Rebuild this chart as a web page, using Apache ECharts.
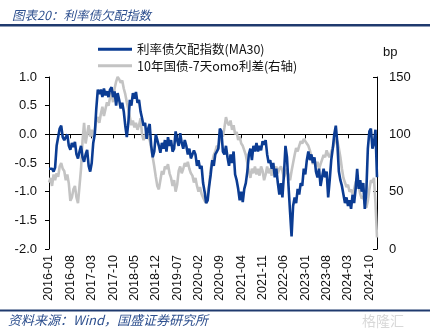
<!DOCTYPE html>
<html>
<head>
<meta charset="utf-8">
<script src="https://cdn.jsdelivr.net/npm/echarts@6/dist/echarts.min.js"></script>
<style>
html,body{margin:0;padding:0;background:#fff;}
#c{width:430px;height:333px;}
</style>
</head>
<body>
<div id="c"></div>
<script>
// semi-monthly observations, 2016-01 .. 2024-12
var tickLabels = ['2016-01','2016-08','2017-03','2017-10','2018-05','2018-12','2019-07','2020-02','2020-09','2021-04','2021-11','2022-06','2023-01','2023-08','2024-03','2024-10'];
var leftTicks = [-2.0, -1.5, -1.0, -0.5, 0.0, 0.5, 1.0];
var rightTicks = [0, 50, 100, 150];

var underAllocIndex = [
 -0.6,-0.62,-0.6,-0.65,-0.58,-0.2,-0.05,0.1,0.15,-0.05,
 -0.1,-0.08,0.0,-0.2,-0.27,-0.15,-0.22,-0.13,-0.35,-0.42,
 -0.3,-0.2,-0.4,-0.48,-0.35,-0.27,-0.55,-0.65,-0.5,-0.15,
 0.0,0.45,0.78,0.7,0.78,0.65,0.8,0.68,0.75,0.65,
 0.78,0.82,0.65,0.75,0.5,0.72,0.6,0.45,0.55,0.4,
 0.15,-0.05,0.2,0.6,0.5,0.72,0.62,0.74,0.55,0.6,
 0.4,0.28,0.15,0.2,-0.08,0.1,0.18,-0.2,-0.4,-0.3,
 0.0,0.02,-0.2,-0.32,-0.15,-0.25,-0.1,-0.3,-0.05,-0.2,
 -0.1,-0.3,-0.25,0.05,-0.1,-0.2,0.02,-0.15,-0.25,-0.1,
 -0.2,-0.35,-0.25,-0.42,-0.45,-0.28,-0.35,-0.55,-0.45,-0.6,
 -0.55,-0.85,-1.0,-1.2,-1.15,-0.9,-0.7,-0.45,-0.55,-0.35,
 -0.3,-0.25,0.1,0.05,-0.3,-0.35,-0.2,-0.4,-0.55,-0.35,
 -0.5,-0.3,-0.7,-0.8,-0.95,-1.15,-1.0,-1.18,-0.95,-0.85,
 -0.65,-0.35,-0.25,-0.45,-0.2,-0.3,-0.15,-0.3,-0.2,-0.28,
 -0.12,-0.18,-0.1,-0.35,-0.5,-0.45,-0.6,-0.5,-0.75,-0.6,
 -0.85,-1.05,-0.85,-1.1,-0.7,-0.2,-0.4,-0.9,-1.35,-1.78,
 -1.25,-1.1,-1.2,-0.95,-1.05,-0.85,-0.9,-0.6,-0.7,-0.45,
 -0.3,-0.45,-0.35,-0.5,-0.4,-0.65,-0.75,-0.6,-0.9,-0.75,
 -0.6,-0.75,-0.65,-1.1,-0.8,-0.45,-0.25,0.0,0.15,-0.15,
 -0.65,-0.8,-0.9,-1.05,-1.2,-1.1,-1.25,-1.15,-1.3,-1.05,
 -1.2,-0.95,-0.6,-0.95,-0.8,-1.0,-0.85,-1.3,-1.0,-0.25,
 0.05,0.1,-0.25,-0.15,0.08,-0.75
];

var spreadBp = [
 58,62,55,65,60,66,63,72,75,70,
 68,60,65,57,42,45,52,55,45,40,
 55,70,95,110,92,100,108,98,104,98,
 103,112,115,110,118,124,116,122,128,125,
 132,136,128,140,146,150,148,145,147,140,
 135,128,122,115,108,112,106,110,104,108,
 114,100,95,98,103,97,95,88,80,72,
 63,55,52,60,68,65,72,70,74,66,
 62,55,60,50,56,68,72,66,70,75,
 72,76,70,66,64,58,62,55,50,54,
 48,45,42,40,48,56,70,76,82,85,
 90,88,96,100,98,106,115,110,108,112,
 104,108,100,102,95,98,92,90,86,82,
 75,68,62,70,66,72,65,70,64,72,
 68,60,65,72,66,70,64,74,68,72,
 66,70,72,68,62,66,70,64,60,68,
 75,82,88,85,90,94,92,96,94,92,
 90,86,80,74,78,72,76,70,74,78,
 82,80,86,82,80,85,88,92,96,94,
 88,80,70,62,58,54,56,50,52,48,
 52,58,62,55,48,44,46,40,36,42,
 52,60,58,62,40,10
];

var categories = [];
for (var y = 2016; y <= 2024; y++) {
  for (var mo = 1; mo <= 12; mo++) {
    var mm = (mo < 10 ? '0' : '') + mo;
    categories.push(y + '-' + mm + '-01');
    categories.push(y + '-' + mm + '-16');
  }
}

var chart = echarts.init(document.getElementById('c'), null, {renderer: 'canvas'});
var navy = '#1f3a6e';
var font = 'Liberation Sans, Arial, sans-serif';
var cjk = '"Noto Sans CJK SC", sans-serif';

chart.setOption({
  animation: false,
  backgroundColor: '#fff',
  title: {
    text: '图表20：利率债欠配指数',
    left: 7, top: 4,
    textStyle: {fontFamily: cjk, fontStyle: 'italic', fontWeight: 'normal', fontSize: 12.5, color: '#2d4f8e'}
  },
  graphic: [
    {type: 'rect', shape: {x: 0, y: 24, width: 430, height: 2.5}, style: {fill: navy}},
    {type: 'rect', shape: {x: 0, y: 309.5, width: 430, height: 2}, style: {fill: navy}},
    {type: 'text', left: 8, top: 314, style: {text: '资料来源：Wind，国盛证券研究所', font: 'italic 13px "Noto Sans CJK SC", sans-serif', fill: '#2d4f8e'}},
    {type: 'text', left: 362, top: 314, style: {text: '格隆汇', font: '14px "Noto Sans CJK SC", sans-serif', fill: '#d8d8d8'}}
  ],
  legend: {
    left: 93, top: 38, orient: 'vertical',
    itemWidth: 34, itemHeight: 3, itemGap: 4, icon: 'rect',
    textStyle: {fontFamily: cjk, fontSize: 12.5, color: '#111'},
    data: ['利率债欠配指数(MA30)', '10年国债-7天omo利差(右轴)']
  },
  grid: {left: 49, right: 53, top: 77, bottom: 84, containLabel: false},
  xAxis: [
    {
      type: 'category', data: categories, boundaryGap: false, position: 'bottom',
      axisLine: {show: false, onZero: false},
      axisTick: {show: false},
      axisLabel: {
        interval: 13, rotate: 90, fontFamily: font, fontSize: 12.5, color: '#111', margin: 6,
        formatter: function (v) { return v.slice(0, 7); }
      },
      splitLine: {show: false}
    },
    {
      type: 'category', data: categories, boundaryGap: false, position: 'bottom',
      axisLine: {show: true, onZero: true, onZeroAxisIndex: 0, lineStyle: {color: '#000', width: 1}},
      axisTick: {show: true, interval: 13, length: 4, inside: false, lineStyle: {color: '#000'}},
      axisLabel: {show: false},
      splitLine: {show: false}
    }
  ],
  yAxis: [
    {
      type: 'value', min: leftTicks[0], max: leftTicks[leftTicks.length - 1], interval: 0.5,
      axisLine: {show: true, lineStyle: {color: '#000'}},
      axisTick: {show: true, length: 4, inside: false, lineStyle: {color: '#000'}},
      axisLabel: {fontFamily: font, fontSize: 13, color: '#111', margin: 12,
        formatter: function (v) { return v.toFixed(1); }},
      splitLine: {show: false}
    },
    {
      type: 'value', min: rightTicks[0], max: rightTicks[rightTicks.length - 1], interval: 50,
      position: 'right',
      name: 'bp', nameLocation: 'end', nameGap: 18,
      nameTextStyle: {fontFamily: font, fontSize: 13, color: '#111', align: 'left', padding: [0, 0, 0, 6]},
      axisLine: {show: true, lineStyle: {color: '#000'}},
      axisTick: {show: true, length: 4, inside: true, lineStyle: {color: '#000'}},
      axisLabel: {fontFamily: font, fontSize: 13, color: '#111', margin: 12},
      splitLine: {show: false}
    }
  ],
  series: [
    {
      name: '10年国债-7天omo利差(右轴)', type: 'line', xAxisIndex: 0, yAxisIndex: 1,
      data: spreadBp, symbol: 'none', showSymbol: false,
      lineStyle: {color: '#c3c3c3', width: 2.6}, itemStyle: {color: '#c3c3c3'}, z: 2
    },
    {
      name: '利率债欠配指数(MA30)', type: 'line', xAxisIndex: 0, yAxisIndex: 0,
      data: underAllocIndex, symbol: 'none', showSymbol: false,
      lineStyle: {color: '#0b3c93', width: 2.6}, itemStyle: {color: '#0b3c93'}, z: 3
    }
  ]
});
</script>
</body>
</html>
